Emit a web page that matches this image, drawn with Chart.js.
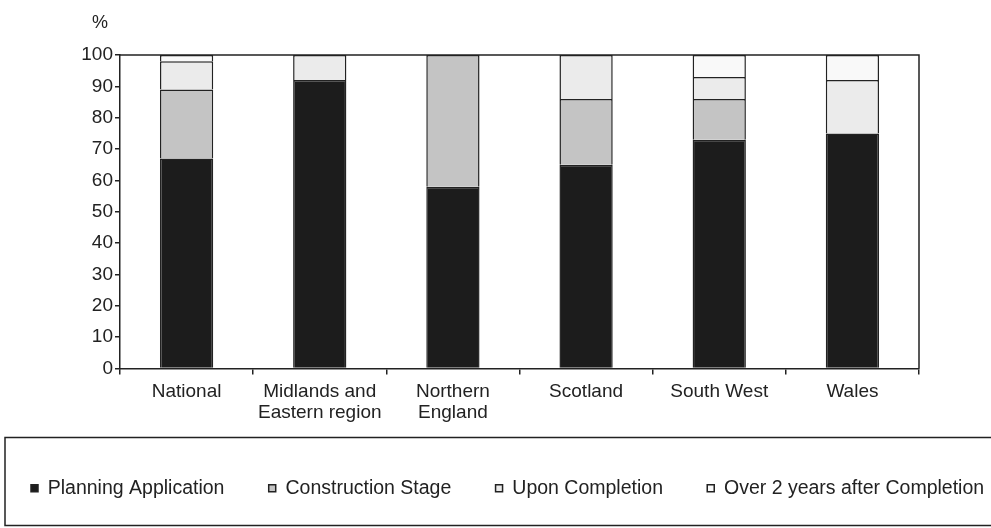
<!DOCTYPE html>
<html>
<head>
<meta charset="utf-8">
<script src="https://cdn.jsdelivr.net/npm/chart.js@4"></script>
<style>
html, body { margin: 0; padding: 0; background: #fff; overflow: hidden; }
/* the original figure is wider than the crop: its legend frame runs off the right edge */
#wrap { width: 1040px; height: 528px; }
</style>
</head>
<body>
<div id="wrap"><canvas id="myChart"></canvas></div>
<script>
var regions = ["National", ["Midlands and", "Eastern region"], ["Northern", "England"], "Scotland", "South West", "Wales"];
var planning = [67, 92, 58, 65, 73, 75];
var construction = [22, 0, 42, 21, 13, 0];
var uponCompletion = [9, 8, 0, 14, 7, 17];
var overTwoYears = [2, 0, 0, 0, 7, 8];
var unitLabel = "%";

var textColor = "#222";
var fontFam = '"Liberation Sans", Arial, sans-serif';

// box round the plot and the legend, plus the "%" unit
var framePlugin = {
    id: "frame",
    afterDraw: function(chart) {
        var ctx = chart.ctx, a = chart.chartArea, lg = chart.legend;
        ctx.save();
        ctx.strokeStyle = "#222";
        ctx.lineWidth = 1.5;
        ctx.beginPath();
        ctx.moveTo(a.left, a.top);
        ctx.lineTo(a.right, a.top);
        ctx.lineTo(a.right, a.bottom);
        ctx.stroke();
        ctx.strokeRect(5, lg.top - 13, 1100, 88);
        ctx.fillStyle = textColor;
        ctx.font = "18px " + fontFam;
        ctx.textAlign = "center";
        ctx.fillText(unitLabel, 100, 23);
        ctx.restore();
    }
};

function ds(label, data, color) {
    return {
        label: label,
        data: data,
        backgroundColor: color,
        borderColor: "#222",
        borderWidth: 1.5,
        barPercentage: 0.4,
        categoryPercentage: 1.0
    };
}

new Chart("myChart", {
    type: "bar",
    data: {
        labels: regions,
        datasets: [
            // trailing spaces widen the gap after each legend entry, like the original
            ds("Planning Application   ", planning, "#1c1c1c"),
            ds("Construction Stage   ", construction, "#c4c4c4"),
            ds("Upon Completion   ", uponCompletion, "#ebebeb"),
            ds("Over 2 years after Completion", overTwoYears, "#f9f9f9")
        ]
    },
    options: {
        responsive: true,
        maintainAspectRatio: false,
        animation: false,
        layout: { padding: { left: 3, right: 0, top: 55, bottom: 20 } },
        plugins: {
            tooltip: { enabled: false },
            legend: {
                position: "bottom",
                align: "start",
                labels: {
                    color: textColor,
                    font: { family: fontFam, size: 19.5 },
                    boxWidth: 7,
                    boxHeight: 7,
                    padding: 28
                }
            }
        },
        scales: {
            x: {
                stacked: true,
                grid: { display: true, drawOnChartArea: false, tickLength: 6, color: "#222", lineWidth: 1.5 },
                border: { color: "#222", width: 1.5 },
                ticks: { color: textColor, padding: 7, maxRotation: 0, font: { family: fontFam, size: 19, lineHeight: 1.1 } },
                afterFit: function(s) { s.height = 82; }
            },
            y: {
                stacked: true,
                min: 0,
                max: 100,
                ticks: { stepSize: 10, color: textColor, padding: 2, font: { family: fontFam, size: 19 } },
                grid: { display: true, drawOnChartArea: false, tickLength: 5, color: "#222", lineWidth: 1.5 },
                border: { color: "#222", width: 1.5 },
                afterFit: function(s) { s.width = 117; }
            },
            y2: {
                position: "right",
                display: true,
                grid: { display: false, drawTicks: false },
                border: { display: false },
                ticks: { display: false },
                afterFit: function(s) { s.width = 121; }
            }
        }
    },
    plugins: [framePlugin]
});
</script>
</body>
</html>
